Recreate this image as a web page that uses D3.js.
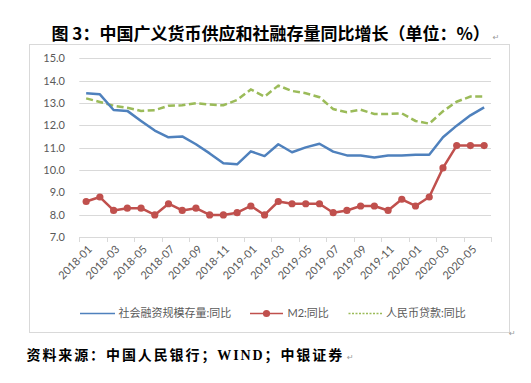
<!DOCTYPE html>
<html><head><meta charset="utf-8">
<script src="https://cdn.jsdelivr.net/npm/d3@7"></script>
<style>body{margin:0;background:#fff}svg{display:block}</style>
</head><body>
<script>
const categories = ["2018-01","2018-02","2018-03","2018-04","2018-05","2018-06","2018-07","2018-08","2018-09","2018-10","2018-11","2018-12",
"2019-01","2019-02","2019-03","2019-04","2019-05","2019-06","2019-07","2019-08","2019-09","2019-10","2019-11","2019-12",
"2020-01","2020-02","2020-03","2020-04","2020-05","2020-06"];
const tsf = [13.44,13.39,12.69,12.65,12.2,11.77,11.47,11.51,11.16,10.75,10.31,10.26,10.84,10.63,11.16,10.8,11.02,11.18,10.83,10.66,10.66,10.57,10.66,10.66,10.69,10.69,11.47,11.99,12.45,12.81];
const m2 = [8.6,8.8,8.2,8.3,8.3,8.0,8.5,8.2,8.3,8.0,8.0,8.1,8.4,8.0,8.6,8.5,8.5,8.5,8.1,8.2,8.4,8.4,8.2,8.7,8.4,8.8,10.1,11.1,11.1,11.1];
const loans = [13.21,13.05,12.88,12.79,12.65,12.68,12.88,12.9,12.99,12.93,12.9,13.14,13.61,13.29,13.78,13.54,13.44,13.26,12.73,12.59,12.7,12.51,12.51,12.54,12.2,12.08,12.63,13.06,13.29,13.29];
const yTicks = [7,8,9,10,11,12,13,14,15];
const xTickLabels = ["2018-01","2018-03","2018-05","2018-07","2018-09","2018-11","2019-01","2019-03","2019-05","2019-07","2019-09","2019-11","2020-01","2020-03","2020-05"];
const seriesNames = ["社会融资规模存量:同比","M2:同比","人民币贷款:同比"];
const titleText = "图 3：中国广义货币供应和社融存量同比增长（单位：%）";
const sourceText = "资料来源：中国人民银行；WIND；中银证券";

const W = 531, H = 383;
const svg = d3.select("body").append("svg").attr("width", W).attr("height", H);
svg.append("rect").attr("width", W).attr("height", H).attr("fill", "#fff");

const blue = "#4F81BD", red = "#C0504D", green = "#9BBB59";
const labelFont = "Lato, 'Noto Sans CJK SC', sans-serif";

function returnMark(after, dy) {
  const b = after.node().getBBox();
  svg.append("text").attr("x", b.x + b.width + 3).attr("y", b.y + b.height - 3 + dy)
    .attr("font-size", 8).attr("fill", "#999").attr("font-family", "'DejaVu Sans'").text("↵");
}

// title
const title = svg.append("text").attr("x", 51.5).attr("y", 40)
  .attr("font-family", "'Noto Sans CJK SC', sans-serif").attr("font-weight", "bold")
  .attr("font-size", 17).attr("fill", "#000").text(titleText);
returnMark(title, -2);

// frame
svg.append("rect").attr("x", 29.5).attr("y", 44.5).attr("width", 480).attr("height", 288)
  .attr("fill", "none").attr("stroke", "#d9d9d9");
svg.append("text").attr("x", 509).attr("y", 336).attr("font-size", 8).attr("fill", "#999")
  .attr("font-family", "'DejaVu Sans'").text("↵");

const x = d3.scaleBand().domain(categories).range([79.3, 491]).padding(0);
const y = d3.scaleLinear().domain([7, 15]).range([237.3, 58.3]);
const cx = d => x(d) + x.bandwidth() / 2;

// gridlines
svg.append("g").selectAll("line").data(yTicks).join("line")
  .attr("x1", 79.3).attr("x2", 491)
  .attr("y1", d => Math.round(y(d)) + 0.5).attr("y2", d => Math.round(y(d)) + 0.5)
  .attr("stroke", "#d9d9d9").attr("stroke-width", 1);

// y labels
svg.append("g").selectAll("text").data(yTicks).join("text")
  .attr("x", 65).attr("y", d => y(d)).attr("dy", "0.35em").attr("text-anchor", "end")
  .attr("font-family", labelFont).attr("font-size", 11).attr("fill", "#595959")
  .text(d => d3.format(".1f")(d));

// x ticks (every 2 categories at band boundaries)
const tickIdx = d3.range(0, categories.length + 1, 2);
svg.append("g").selectAll("line").data(tickIdx).join("line")
  .attr("x1", i => Math.round(i < categories.length ? x(categories[i]) : x.range()[1]) + 0.5)
  .attr("x2", i => Math.round(i < categories.length ? x(categories[i]) : x.range()[1]) + 0.5)
  .attr("y1", Math.round(y(7))).attr("y2", Math.round(y(7)) + 5)
  .attr("stroke", "#d9d9d9");

// x labels
svg.append("g").selectAll("text").data(xTickLabels).join("text")
  .attr("transform", d => `translate(${cx(d) + 4},${y(7) + 10}) rotate(-45)`)
  .attr("text-anchor", "end").attr("dy", "0.35em")
  .attr("font-family", labelFont).attr("font-size", 11).attr("fill", "#595959")
  .text(d => d);

// lines
const line = vals => d3.line().x((d, i) => cx(categories[i])).y(d => y(d))(vals);
svg.append("path").attr("d", line(loans)).attr("fill", "none").attr("stroke", green)
  .attr("stroke-width", 2.5).attr("stroke-dasharray", "7,3.5");
svg.append("path").attr("d", line(tsf)).attr("fill", "none").attr("stroke", blue)
  .attr("stroke-width", 2.5).attr("stroke-linejoin", "round");
svg.append("path").attr("d", line(m2)).attr("fill", "none").attr("stroke", red)
  .attr("stroke-width", 2.5).attr("stroke-linejoin", "round");
svg.append("g").selectAll("circle").data(m2).join("circle")
  .attr("cx", (d, i) => cx(categories[i])).attr("cy", d => y(d)).attr("r", 3.6).attr("fill", red);

// legend
const ly = 313.5;
const leg = svg.append("g");
const legendItems = [
  {name: seriesNames[0], x0: 80, x1: 115, tx: 118.5, color: blue, dash: null, marker: false},
  {name: seriesNames[1], x0: 250, x1: 283, tx: 287.5, color: red, dash: null, marker: true},
  {name: seriesNames[2], x0: 348.5, x1: 382, tx: 386, color: green, dash: "2,1.5", marker: false}
];
legendItems.forEach(it => {
  leg.append("line").attr("x1", it.x0).attr("x2", it.x1).attr("y1", ly).attr("y2", ly)
    .attr("stroke", it.color).attr("stroke-width", 1.3).attr("stroke-dasharray", it.dash);
  if (it.marker) leg.append("circle").attr("cx", (it.x0 + it.x1) / 2).attr("cy", ly).attr("r", 3.6).attr("fill", it.color);
  leg.append("text").attr("x", it.tx).attr("y", ly).attr("dy", "0.36em")
    .attr("font-family", labelFont).attr("font-size", 11).attr("fill", "#595959").text(it.name);
});

// source
const src = svg.append("text").attr("x", 26.5).attr("y", 360)
  .attr("font-family", "'Liberation Serif', 'Noto Sans CJK SC', serif").attr("font-weight", "bold")
  .attr("font-size", 14).attr("letter-spacing", 1.9).attr("fill", "#000").text(sourceText);
returnMark(src, -1);
</script>
</body></html>
